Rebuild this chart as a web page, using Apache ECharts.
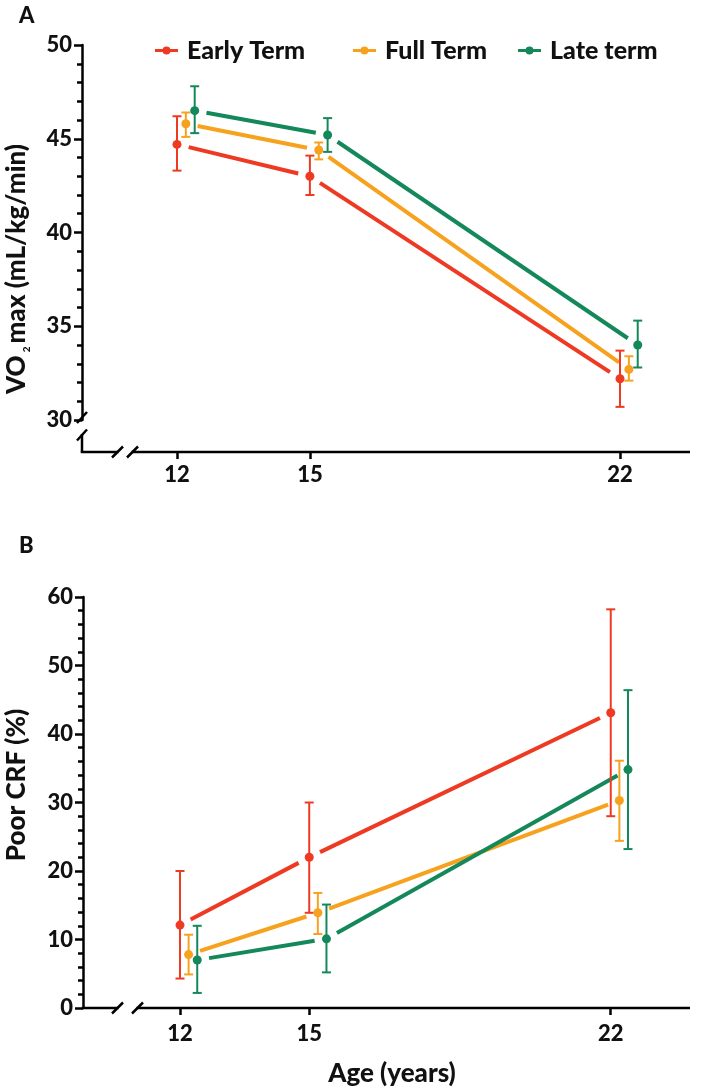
<!DOCTYPE html>
<html>
<head>
<meta charset="utf-8">
<script src="https://cdn.jsdelivr.net/npm/echarts@6/dist/echarts.min.js"></script>
<style>
html,body{margin:0;padding:0;background:#fff;}
#chart{width:709px;height:1089px;}
</style>
</head>
<body>
<div id="chart"></div>
<script>
// ---------- data ----------
const ages = [12, 15, 22];
const xTickLabels = [12, 15, 22];
const groupNames = ['Early Term', 'Full Term', 'Late term'];

// Panel A: VO2max (mL/kg/min), point with lower / upper error bar
const vo2Early     = [44.7, 43.0, 32.2];
const vo2EarlyLow  = [43.3, 42.0, 30.7];
const vo2EarlyHigh = [46.2, 44.1, 33.7];
const vo2Full      = [45.8, 44.4, 32.7];
const vo2FullLow   = [45.1, 43.9, 32.1];
const vo2FullHigh  = [46.4, 44.8, 33.4];
const vo2Late      = [46.5, 45.2, 34.0];
const vo2LateLow   = [45.3, 44.3, 32.8];
const vo2LateHigh  = [47.8, 46.1, 35.3];

// Panel B: Poor CRF (%)
const crfEarly     = [12.1, 22.0, 43.1];
const crfEarlyLow  = [4.3, 13.9, 28.0];
const crfEarlyHigh = [20.0, 30.0, 58.2];
const crfFull      = [7.8, 13.9, 30.3];
const crfFullLow   = [4.9, 10.8, 24.4];
const crfFullHigh  = [10.7, 16.8, 36.1];
const crfLate      = [7.0, 10.1, 34.8];
const crfLateLow   = [2.2, 5.2, 23.2];
const crfLateHigh  = [12.0, 15.1, 46.4];

// ---------- style ----------
const colors = ['#EE3A22', '#F7A21E', '#14885A'];
const dodge = [0, 0.2, 0.4];       // horizontal offset of each group (years)
const FONT = 'Lato';
const WEIGHT = 900;
const GAP = 12;                     // gap between connecting line and marker (px)
const LEGEND_ICON = 'path://M0,2.5L23,2.5L23,5.5L0,5.5Z M7.5,4A4,4 0 1 1 15.5,4A4,4 0 1 1 7.5,4Z';

const panelA = [
  {v: vo2Early, lo: vo2EarlyLow, hi: vo2EarlyHigh},
  {v: vo2Full,  lo: vo2FullLow,  hi: vo2FullHigh},
  {v: vo2Late,  lo: vo2LateLow,  hi: vo2LateHigh}
];
const panelB = [
  {v: crfEarly, lo: crfEarlyLow, hi: crfEarlyHigh},
  {v: crfFull,  lo: crfFullLow,  hi: crfFullHigh},
  {v: crfLate,  lo: crfLateLow,  hi: crfLateHigh}
];

function lineSeries(axis, color, xs, ys) {
  const data = [];
  for (let i = 0; i < xs.length - 1; i++) data.push([xs[i], ys[i], xs[i + 1], ys[i + 1]]);
  return {
    type: 'custom', xAxisIndex: axis, yAxisIndex: axis, silent: true, z: 2,
    data: data, encode: {x: [0, 2], y: [1, 3]},
    renderItem: function (params, api) {
      const p0 = api.coord([api.value(0), api.value(1)]);
      const p1 = api.coord([api.value(2), api.value(3)]);
      const dx = p1[0] - p0[0], dy = p1[1] - p0[1];
      const L = Math.hypot(dx, dy), g = GAP / L;
      return {type: 'line',
        shape: {x1: p0[0] + dx * g, y1: p0[1] + dy * g, x2: p1[0] - dx * g, y2: p1[1] - dy * g},
        style: {stroke: color, lineWidth: 4, lineCap: 'butt'}};
    }
  };
}

function errSeries(axis, color, xs, lo, hi) {
  return {
    type: 'custom', xAxisIndex: axis, yAxisIndex: axis, silent: true, z: 3,
    data: xs.map((x, i) => [x, lo[i], hi[i]]), encode: {x: 0, y: [1, 2]},
    renderItem: function (params, api) {
      const t = api.coord([api.value(0), api.value(2)]);
      const b = api.coord([api.value(0), api.value(1)]);
      const w = 4.5;
      const st = {stroke: color, lineWidth: 2};
      return {type: 'group', children: [
        {type: 'line', shape: {x1: t[0], y1: t[1], x2: b[0], y2: b[1]}, style: st},
        {type: 'line', shape: {x1: t[0] - w, y1: t[1], x2: t[0] + w, y2: t[1]}, style: st},
        {type: 'line', shape: {x1: b[0] - w, y1: b[1], x2: b[0] + w, y2: b[1]}, style: st}
      ]};
    }
  };
}

function pointSeries(axis, color, xs, ys, name) {
  return {
    type: 'scatter', name: name, xAxisIndex: axis, yAxisIndex: axis, z: 4, silent: true,
    symbol: 'circle', symbolSize: 9, itemStyle: {color: color, opacity: 1},
    data: xs.map((x, i) => [x, ys[i]])
  };
}

// axis lines with GraphPad style breaks
function axisDecor(axis, cfg) {
  return {
    type: 'custom', xAxisIndex: axis, yAxisIndex: axis, silent: true, z: 5,
    data: [[ages[0], cfg.ymin]],
    renderItem: function (params) {
      const cs = params.coordSys;
      const yb = cs.y + cs.height + cfg.xOffset;
      const st = {stroke: '#000', lineWidth: 2.5};
      const kids = [];
      const s1 = cs.x + cfg.xBreak[0], s2 = cs.x + cfg.xBreak[1];
      kids.push({type: 'line', shape: {x1: cs.x - 1.25, y1: yb, x2: s1 + 1, y2: yb}, style: st});
      kids.push({type: 'line', shape: {x1: s2 - 1, y1: yb, x2: cs.x + cs.width, y2: yb}, style: st});
      [s1, s2].forEach(c => kids.push({type: 'line', shape: {x1: c - 5.5, y1: yb + 5.5, x2: c + 5.5, y2: yb - 5.5}, style: st}));
      if (cfg.yBreak) {
        const b1 = cs.y + cs.height + cfg.yBreak[0], b2 = cs.y + cs.height + cfg.yBreak[1];
        kids.push({type: 'line', shape: {x1: cs.x, y1: b2 - 1, x2: cs.x, y2: yb}, style: st});
        [b1, b2].forEach(c => kids.push({type: 'line', shape: {x1: cs.x - 5, y1: c + 5.5, x2: cs.x + 5, y2: c - 5.5}, style: st}));
      }
      return {type: 'group', children: kids};
    }
  };
}

const series = [];
function addPanel(axis, panel) {
  panel.forEach((g, k) => {
    const xs = ages.map(a => a + dodge[k]);
    series.push(lineSeries(axis, colors[k], xs, g.v));
    series.push(errSeries(axis, colors[k], xs, g.lo, g.hi));
    series.push(pointSeries(axis, colors[k], xs, g.v, groupNames[k]));
  });
}
addPanel(0, panelA);
addPanel(1, panelB);
series.push(axisDecor(0, {ymin: 30, xOffset: 32, xBreak: [35.5, 50.5], yBreak: [-2.5, 15]}));
series.push(axisDecor(1, {ymin: 0, xOffset: 0, xBreak: [34.5, 54.5]}));

const labelStyle = {color: '#111', fontFamily: FONT, fontWeight: WEIGHT, fontSize: 22};

function xAxisCfg(grid, min, max, offset, margin) {
  return {
    type: 'value', gridIndex: grid, min: min, max: max, offset: offset,
    axisLine: {show: false},
    splitLine: {show: false},
    axisTick: {show: true, length: 7, lineStyle: {color: '#000', width: 2.5}, customValues: xTickLabels},
    axisLabel: Object.assign({margin: margin, customValues: xTickLabels, formatter: v => String(v)}, labelStyle)
  };
}
function yAxisCfg(grid, min, max, interval) {
  return {
    type: 'value', gridIndex: grid, min: min, max: max, interval: interval,
    axisLine: {show: true, lineStyle: {color: '#000', width: 2.5}},
    splitLine: {show: false},
    axisTick: {show: true, length: 8, lineStyle: {color: '#000', width: 2.5}},
    minorTick: {show: true, splitNumber: 5, length: 5, lineStyle: {color: '#000', width: 2.5}},
    axisLabel: Object.assign({margin: 10}, labelStyle)
  };
}

const legendBase = {
  top: 33, itemWidth: 23, itemHeight: 8, itemGap: 0,
  textStyle: {color: '#111', fontFamily: FONT, fontWeight: WEIGHT, fontSize: 25, padding: [0, 0, 0, 4]},
  selectedMode: false
};

const option = {
  animation: false,
  backgroundColor: '#fff',
  grid: [
    {left: 82, top: 45, width: 608, height: 375},
    {left: 83, top: 597, width: 607, height: 411}
  ],
  xAxis: [
    xAxisCfg(0, 9.856, 23.58, 32, 12),
    xAxisCfg(1, 9.748, 23.84, 0, 15)
  ],
  yAxis: [
    yAxisCfg(0, 30, 50, 5),
    yAxisCfg(1, 0, 60, 10)
  ],
  legend: [
    Object.assign({left: 150, data: [{name: groupNames[0], icon: LEGEND_ICON}]}, legendBase),
    Object.assign({left: 348, data: [{name: groupNames[1], icon: LEGEND_ICON}]}, legendBase),
    Object.assign({left: 513, data: [{name: groupNames[2], icon: LEGEND_ICON}]}, legendBase)
  ],
  graphic: [
    {type: 'text', left: 19, top: 5, style: {text: 'A', font: WEIGHT + ' 22px ' + FONT, fill: '#111'}},
    {type: 'text', left: 19, top: 535, style: {text: 'B', font: WEIGHT + ' 22px ' + FONT, fill: '#111'}},
    {type: 'text', x: 17, y: 269, rotation: Math.PI / 2,
      style: {text: '{a|VO}{s|2}{a|max (mL/kg/min)}', align: 'center', verticalAlign: 'middle',
        rich: {a: {font: WEIGHT + ' 26px ' + FONT, fill: '#111', lineHeight: 30},
               s: {font: WEIGHT + ' 10px ' + FONT, fill: '#111', verticalAlign: 'bottom', padding: [0, 3, 0, 3], lineHeight: 30}}}},
    {type: 'text', x: 17, y: 785, rotation: Math.PI / 2,
      style: {text: 'Poor CRF (%)', align: 'center', verticalAlign: 'middle', font: WEIGHT + ' 26px ' + FONT, fill: '#111'}},
    {type: 'text', x: 392, y: 1074,
      style: {text: 'Age (years)', align: 'center', verticalAlign: 'middle', font: WEIGHT + ' 26px ' + FONT, fill: '#111'}}
  ],
  series: series
};

const chart = echarts.init(document.getElementById('chart'), null, {renderer: 'canvas'});
chart.setOption(option);
</script>
</body>
</html>
